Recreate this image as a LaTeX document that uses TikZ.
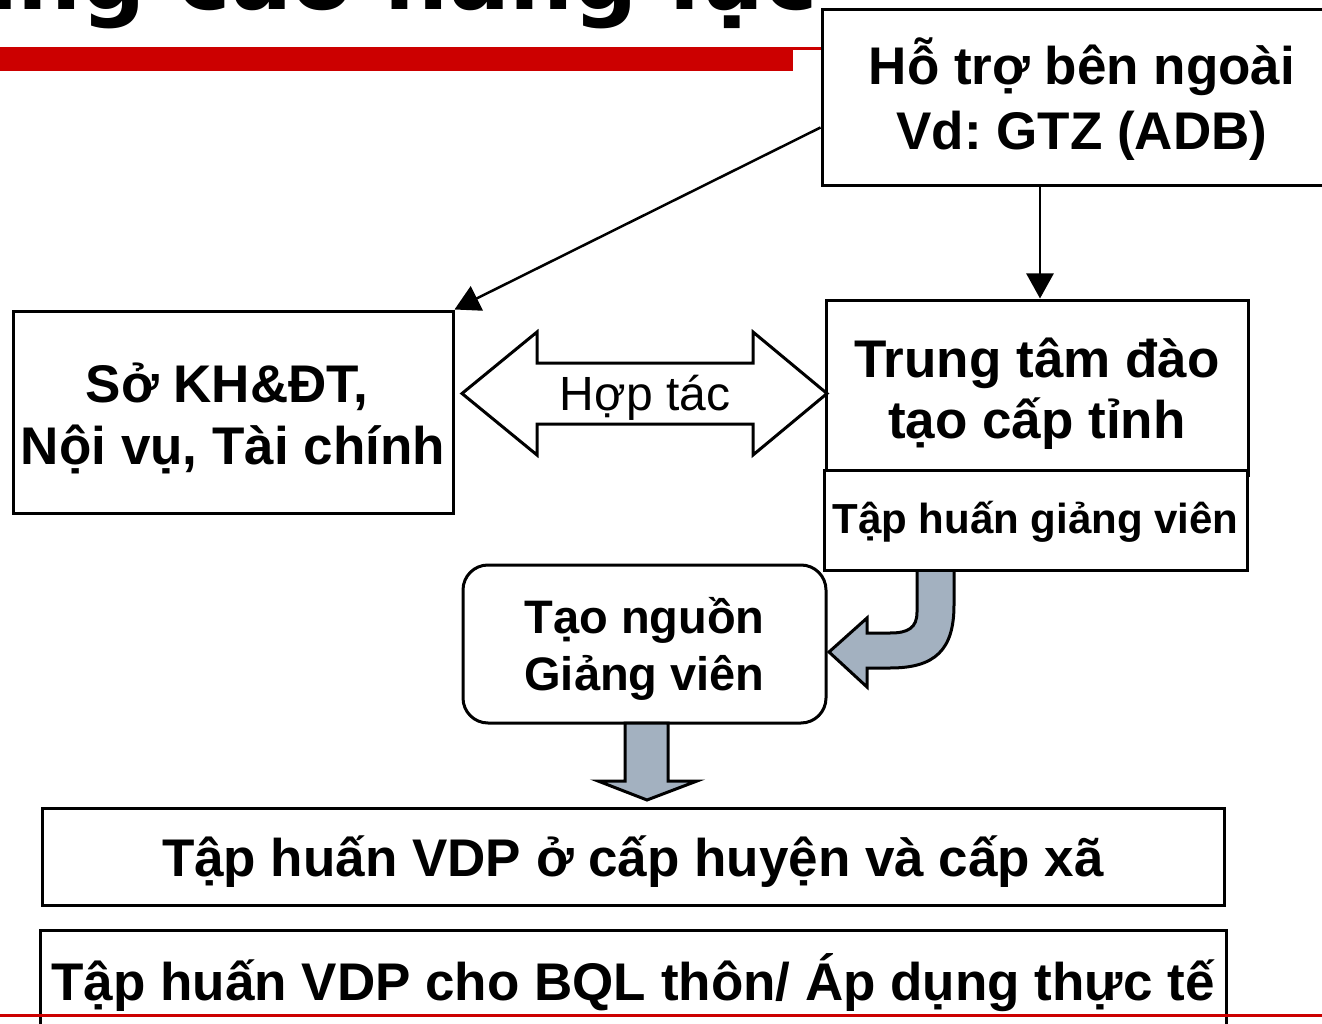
\documentclass[tikz,border=0pt]{standalone}
\usepackage{fontspec}
\setmainfont{Liberation Sans}
\newfontfamily\titlefont{DejaVu Sans}
\usetikzlibrary{arrows.meta,calc}
\definecolor{redbar}{RGB}{204,0,0}
\definecolor{arrowfill}{RGB}{163,177,192}
\frenchspacing
\begin{document}
\begin{tikzpicture}[x=1pt,y=-1pt,
 box/.style={draw, line width=3pt, fill=white, inner sep=0pt, align=center, font=\fontsize{53}{63}\selectfont\bfseries},
 thinarrow/.style={line width=2.5pt, -{Triangle[length=25pt,width=27pt]}},
 fatarrow/.style={draw, line width=3pt, fill=arrowfill, line join=miter},
 dblarrow/.style={draw, line width=3pt, fill=white, line join=miter},
]
\useasboundingbox (0,0) rectangle (1322,1024);
\clip (0,0) rectangle (1322,1024);
% title (cut off at the top)
\node[anchor=base east, inner sep=0pt, font=\titlefont\bfseries\fontsize{90}{100}\selectfont] (title) at (818,10) {Nâng cao năng lực};
\fill[redbar] (0,47) rectangle (793,71);
\fill[redbar] (793,47) rectangle (822,50);
% boxes (multi-line text: height/depth are measured from the last line's baseline)
\node[box, minimum width=520pt, minimum height=176pt, text height=104pt, text depth=0pt, font=\fontsize{53}{65}\selectfont\bfseries] (hotro) at (1082,98) {Hỗ trợ bên ngoài\\Vd: GTZ (ADB)};
\node[box, minimum width=440pt, minimum height=202pt, text height=104pt, text depth=0pt, font=\fontsize{53}{62}\selectfont\bfseries] (so) at (233,412) {Sở KH\&ĐT,\hspace*{12pt}\\Nội vụ, Tài chính};
\node[box, minimum width=422pt, minimum height=175pt, text height=101pt, text depth=0pt, font=\fontsize{53}{61}\selectfont\bfseries] (trung) at (1037,387.5) {Trung tâm đào\\tạo cấp tỉnh};
\path[fatarrow] (917,570) -- (917,612) .. controls (917,628) and (908,633) .. (890,633) -- (867,633) -- (867,618) -- (829,652) -- (867,687) -- (867,668) -- (890,668) .. controls (935,668) and (954,650) .. (954,605) -- (954,570) -- cycle;
\node[box, minimum width=423pt, minimum height=100pt, text height=30pt, text depth=4pt, font=\fontsize{42}{50}\selectfont\bfseries] (tapgv) at (1035.5,520) {Tập huấn giảng viên};
\node[box, rounded corners=25pt, minimum width=363pt, minimum height=158pt, text height=92pt, text depth=0pt, font=\fontsize{47}{57}\selectfont\bfseries] (tao) at (644.5,644) {Tạo nguồn\\Giảng viên};
\node[box, minimum width=1182pt, minimum height=97pt, text height=40pt, text depth=0pt] (huyen) at (633,856.5) {Tập huấn VDP ở cấp huyện và cấp xã};
\node[box, minimum width=1186pt, minimum height=100pt, text height=40pt, text depth=0pt] (thon) at (633,980) {Tập huấn VDP cho BQL thôn/ Áp dụng thực tế};
% connectors
\coordinate (vx) at (1040,0);
\draw[thinarrow] ($(hotro.south west)+(0,-60)$) -- (so.north east);
\draw[thinarrow] (hotro.south -| vx) -- (trung.north -| vx);
\path[dblarrow] (462,393.5) -- (537,332) -- (537,363) -- (753,363) -- (753,332) -- (827,393.5) -- (753,455) -- (753,424) -- (537,424) -- (537,455) -- cycle;
\node[inner sep=0pt, text height=34pt, text depth=0pt, font=\fontsize{48}{58}\selectfont] (hop) at (645,393) {Hợp tác};
\path[fatarrow] (625,723) -- (625,781) -- (598,781) -- (647,800) -- (697,781) -- (668,781) -- (668,723) -- cycle;
\fill[redbar] (0,1013.5) rectangle (1322,1016.5);
\end{tikzpicture}
\end{document}
